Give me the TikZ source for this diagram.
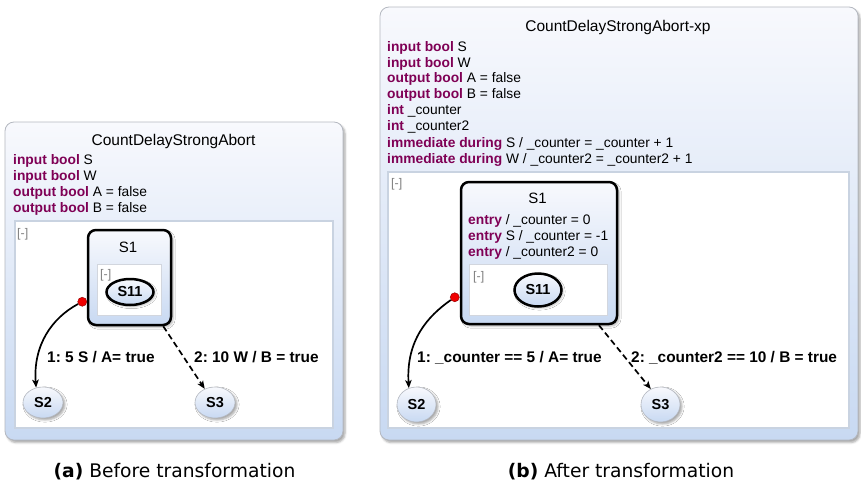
\documentclass[tikz,border=0pt]{standalone}
\usepackage{fontspec}
\setmainfont{Liberation Sans}
\newfontfamily\capfont{DejaVu Sans}
\usetikzlibrary{shadows.blur,calc,arrows.meta,shapes.geometric}
\definecolor{kw}{HTML}{7F0055}
\definecolor{boxtop}{HTML}{F8F9FD}
\definecolor{boxbot}{HTML}{C8D9F2}
\definecolor{boxline}{HTML}{B4B8C0}
\definecolor{regline}{HTML}{C9D3E1}
\definecolor{subline}{HTML}{D2D6DE}
\definecolor{dotred}{HTML}{F00000}
\definecolor{colltext}{HTML}{808080}
\newcommand{\kwd}[1]{\textcolor{kw}{\textbf{#1}}}
\frenchspacing
\begin{document}
\begin{tikzpicture}[x=1pt,y=-1pt,
  outerbox/.style={draw=boxline, line width=0.8pt, rounded corners=9pt,
    top color=boxtop, bottom color=boxbot,
    blur shadow={shadow xshift=2pt, shadow yshift=-2.5pt, shadow opacity=35, shadow blur steps=4}},
  region/.style={draw=regline, line width=1.5pt, fill=white},
  subregion/.style={draw=subline, line width=1pt, fill=white},
  titletext/.style={inner sep=0pt, anchor=base, font=\fontsize{15.5}{18}\selectfont},
  decl/.style={inner sep=0pt, anchor=base west, font=\fontsize{13.8}{16}\selectfont},
  coll/.style={inner sep=0pt, anchor=base west, text=colltext, font=\fontsize{12.5}{14}\selectfont},
  statebox/.style={draw=black, line width=2.5pt, rounded corners=8pt, inner sep=0pt,
    top color=boxtop, bottom color=boxbot,
    blur shadow={shadow xshift=2pt, shadow yshift=-2pt, shadow opacity=30, shadow blur steps=4}},
  stitle/.style={inner sep=0pt, anchor=base, font=\fontsize{15}{18}\selectfont},
  innerstate/.style={ellipse, draw=black, line width=2.5pt, inner sep=0pt,
    top color=boxtop, bottom color=boxbot, font=\bfseries\fontsize{14.5}{16}\selectfont,
    blur shadow={shadow xshift=1.5pt, shadow yshift=-1.5pt, shadow opacity=30, shadow blur steps=3}},
  simplestate/.style={ellipse, draw=boxline, line width=0.6pt, inner sep=0pt,
    top color=boxtop, bottom color=boxbot, font=\bfseries\fontsize{14.5}{16}\selectfont,
    blur shadow={shadow xshift=2pt, shadow yshift=-2pt, shadow opacity=35, shadow blur steps=4}},
  reddot/.style={circle, fill=dotred, draw=red!60!black, line width=0.5pt, minimum size=9pt, inner sep=0pt},
  trans/.style={line width=1.7pt, -{Stealth[length=8pt,width=6.5pt,inset=2pt]}},
  dtrans/.style={trans, dash pattern=on 6pt off 3.5pt},
  tlabel/.style={inner sep=0pt, anchor=base west, font=\bfseries\fontsize{15.4}{18}\selectfont},
  captext/.style={inner sep=0pt, anchor=base, font=\capfont\fontsize{18.7}{22}\selectfont}
]
\path[use as bounding box] (0,0) rectangle (861,485);

% ---------- Left diagram ----------
\draw[outerbox] (5,122) rectangle (343,440);
\node[titletext] (tL) at (173.5,145) {CountDelayStrongAbort};
\node[decl] (dL1) at (13,164) {\kwd{input bool} S};
\node[decl] (dL2) at (13,180) {\kwd{input bool} W};
\node[decl] (dL3) at (13,196) {\kwd{output bool} A = false};
\node[decl] (dL4) at (13,212) {\kwd{output bool} B = false};
\draw[region] (15,221) rectangle (333,428);
\node[coll] (cL1) at (17,237) {[-]};
\node[statebox, minimum width=83pt, minimum height=95pt] (S1L) at (129.5,277.5) {};
\node[stitle] (S1Lt) at (128,252) {S1};
\draw[subregion] (97,264) rectangle (161,315);
\node[coll] (cL2) at (100,278) {[-]};
\node[innerstate, minimum width=47pt, minimum height=26pt] (S11L) at (130,292) {S11};
\node[simplestate, minimum width=40pt, minimum height=31pt] (S2L) at (43,402.5) {S2};
\node[simplestate, minimum width=40pt, minimum height=31pt] (S3L) at (215,402.5) {S3};
\node[reddot] (dotL) at ($(S1L.south west)+(-4.5,-24.5)$) {};
\draw[trans] (dotL) .. controls (52,318) and (33,345) .. (S2L.115);
\coordinate (dsL) at ($(S1L.south east)+(-9,0)$);
\draw[dtrans] (dsL) -- (S3L.127);
\node[tlabel] (lL1) at (47,362) {1: 5 S / A= true};
\node[tlabel] (lL2) at (194,362) {2: 10 W / B = true};

% ---------- Right diagram ----------
\draw[outerbox] (380,7) rectangle (858,440);
\node[titletext] (tR) at (618,31) {CountDelayStrongAbort-xp};
\node[decl] (dR1) at (387,51) {\kwd{input bool} S};
\node[decl] (dR2) at (387,67) {\kwd{input bool} W};
\node[decl] (dR3) at (387,82) {\kwd{output bool} A = false};
\node[decl] (dR4) at (387,98) {\kwd{output bool} B = false};
\node[decl] (dR5) at (387,114) {\kwd{int} \_counter};
\node[decl] (dR6) at (387,130) {\kwd{int} \_counter2};
\node[decl] (dR7) at (387,147) {\kwd{immediate during} S / \_counter = \_counter + 1};
\node[decl] (dR8) at (387,163) {\kwd{immediate during} W / \_counter2 = \_counter2 + 1};
\draw[region] (388,172) rectangle (849,428);
\node[coll] (cR1) at (391,187) {[-]};
\node[statebox, minimum width=156pt, minimum height=142pt] (S1R) at (539,253) {};
\node[stitle] (S1Rt) at (537.5,203) {S1};
\node[decl] (eR1) at (468,224) {\kwd{entry} / \_counter = 0};
\node[decl] (eR2) at (468,240) {\kwd{entry} S / \_counter = -1};
\node[decl] (eR3) at (468,256) {\kwd{entry} / \_counter2 = 0};
\draw[subregion] (469,264) rectangle (607,315);
\node[coll] (cR2) at (473,280) {[-]};
\node[innerstate, minimum width=47pt, minimum height=33pt] (S11R) at (538,290) {S11};
\node[simplestate, minimum width=39pt, minimum height=35pt] (S2R) at (416.5,404.5) {S2};
\node[simplestate, minimum width=39pt, minimum height=35pt] (S3R) at (660.5,404.5) {S3};
\node[reddot] (dotR) at ($(S1R.south west)+(-5,-28)$) {};
\draw[trans] (dotR) .. controls (428,316) and (406,340) .. (S2R.115);
\coordinate (dsR) at ($(S1R.south east)+(-19.3,0)$);
\draw[dtrans] (dsR) -- (S3R.122);
\node[tlabel] (lR1) at (417,362) {1: \_counter == 5 / A= true};
\node[tlabel] (lR2) at (631,362) {2: \_counter2 == 10 / B = true};

% ---------- Captions ----------
\node[captext] (capA) at (174.5,477) {\textbf{(a)} Before transformation};
\node[captext] (capB) at (621,477) {\textbf{(b)} After transformation};
\end{tikzpicture}
\end{document}
